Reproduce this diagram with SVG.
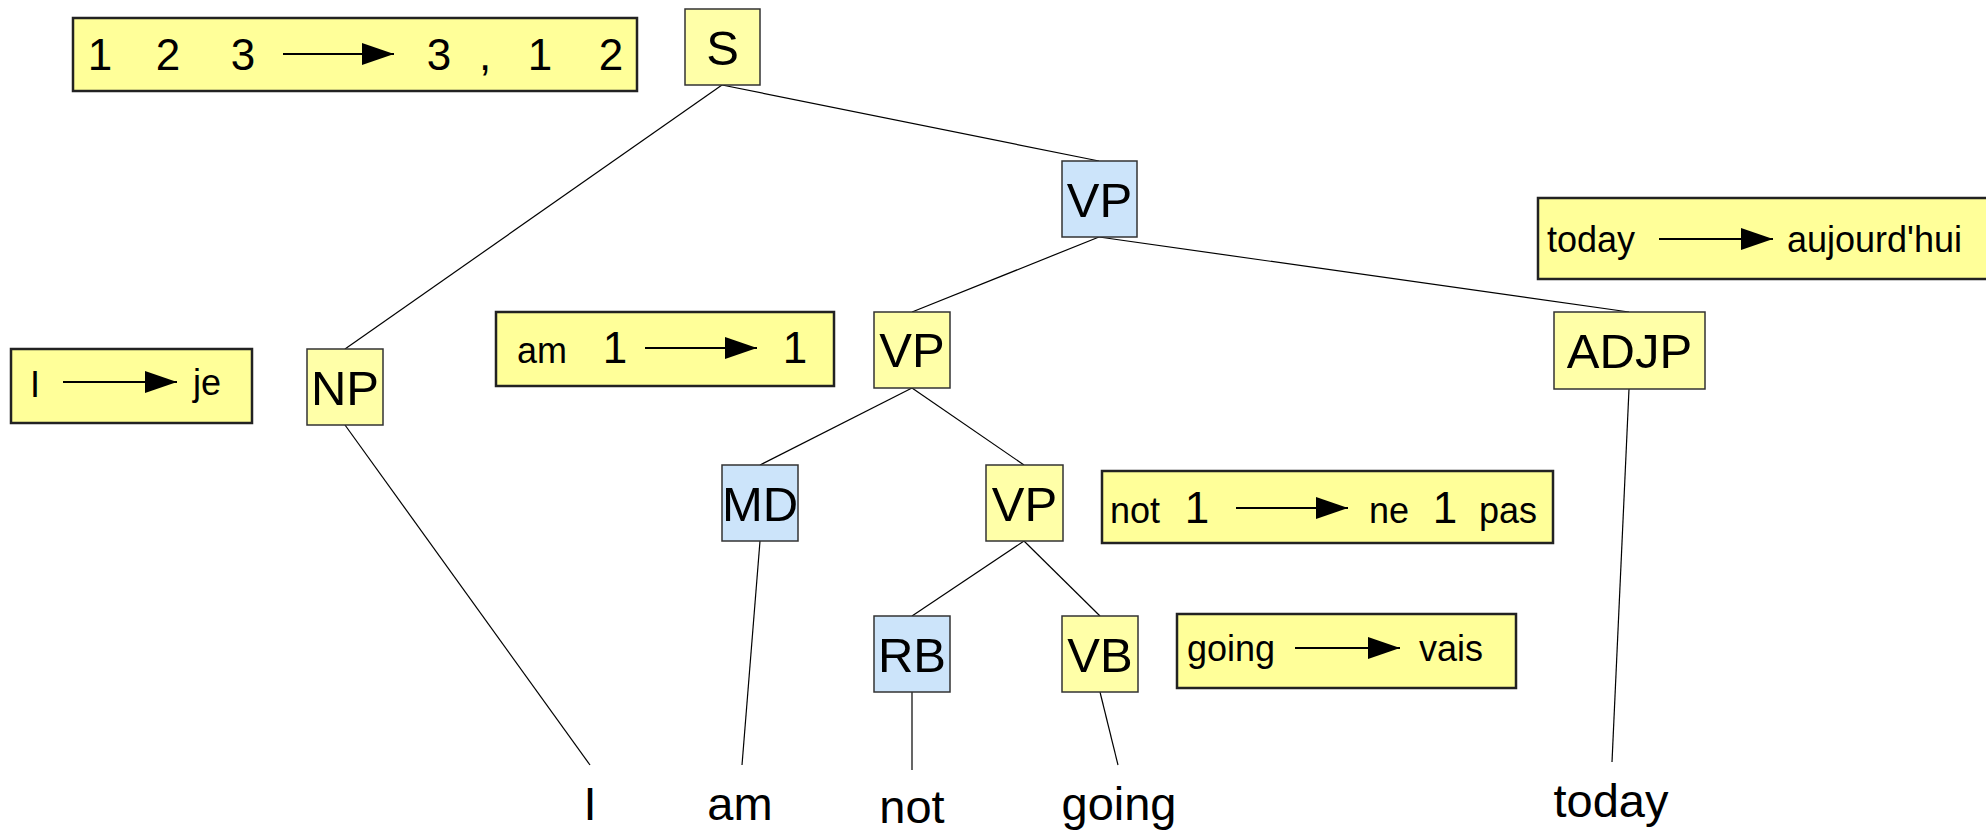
<svg xmlns="http://www.w3.org/2000/svg" width="1986" height="830" viewBox="0 0 1986 830">
<defs>
<style>
.node rect{stroke:#333;stroke-width:1.5}
.y rect{fill:#ffffa8}
.b rect{fill:#cce4fa}
.node text{font-family:"Liberation Sans",Arial,sans-serif;font-size:49px;text-anchor:middle;fill:#000}
.rule rect{fill:#ffff99;stroke:#222;stroke-width:2.5}
.rule text{font-family:"Liberation Sans",Arial,sans-serif;fill:#000}
.d{font-size:44px;text-anchor:middle}
.w{font-size:36px}
.arr{stroke:#000;stroke-width:2;marker-end:url(#ah)}
.conn line{stroke:#000;stroke-width:1.2}
.leaf{font-family:"Liberation Sans",Arial,sans-serif;font-size:47px;text-anchor:middle;fill:#000}
</style>
<marker id="ah" markerUnits="userSpaceOnUse" markerWidth="33" markerHeight="22" refX="32" refY="11" orient="auto">
<path d="M0,0 L32,11 L0,22 Z" fill="#000"/>
</marker>
</defs>
<rect width="1986" height="830" fill="#fff"/>

<g id="connectors" class="conn">
<line x1="722" y1="85" x2="345" y2="349"/>
<line x1="722" y1="85" x2="1099" y2="161"/>
<line x1="1099" y1="237" x2="912" y2="312"/>
<line x1="1099" y1="237" x2="1629" y2="312"/>
<line x1="912" y1="388" x2="760" y2="465"/>
<line x1="912" y1="388" x2="1024" y2="465"/>
<line x1="1024" y1="541" x2="912" y2="616"/>
<line x1="1024" y1="541" x2="1100" y2="616"/>
<line x1="345" y1="425" x2="590" y2="765"/>
<line x1="760" y1="541" x2="742" y2="765"/>
<line x1="912" y1="692" x2="912" y2="770"/>
<line x1="1100" y1="692" x2="1118" y2="765"/>
<line x1="1629" y1="389" x2="1612" y2="762"/>
</g>

<g id="rule1" class="rule">
<rect x="73" y="18" width="564" height="73"/>
<text class="d" x="100" y="70">1</text>
<text class="d" x="168" y="70">2</text>
<text class="d" x="243" y="70">3</text>
<line class="arr" x1="283" y1="54" x2="394" y2="54"/>
<text class="d" x="439" y="70">3</text>
<text class="d" x="485" y="70">,</text>
<text class="d" x="540" y="70">1</text>
<text class="d" x="611" y="70">2</text>
</g>

<g id="rule2" class="rule">
<rect x="11" y="349" width="241" height="74"/>
<text class="w" x="30" y="397" font-size="37">I</text>
<line class="arr" x1="63" y1="382" x2="177" y2="382"/>
<text class="w" x="193" y="395" font-size="37">je</text>
</g>

<g id="rule3" class="rule">
<rect x="496" y="312" width="338" height="74"/>
<text class="w" x="517" y="363" font-size="37">am</text>
<text class="d" x="615" y="363">1</text>
<line class="arr" x1="645" y1="348" x2="757" y2="348"/>
<text class="d" x="795" y="363">1</text>
</g>

<g id="rule4" class="rule">
<rect x="1538" y="198" width="460" height="81"/>
<text class="w" x="1547" y="252">today</text>
<line class="arr" x1="1659" y1="239" x2="1773" y2="239"/>
<text class="w" x="1787" y="252" font-size="37">aujourd'hui</text>
</g>

<g id="rule5" class="rule">
<rect x="1102" y="471" width="451" height="72"/>
<text class="w" x="1110" y="523">not</text>
<text class="d" x="1197" y="523">1</text>
<line class="arr" x1="1236" y1="508" x2="1348" y2="508"/>
<text class="w" x="1369" y="523">ne</text>
<text class="d" x="1445" y="523">1</text>
<text class="w" x="1479" y="523">pas</text>
</g>

<g id="rule6" class="rule">
<rect x="1177" y="614" width="339" height="74"/>
<text class="w" x="1187" y="661">going</text>
<line class="arr" x1="1295" y1="648" x2="1400" y2="648"/>
<text class="w" x="1419" y="661">vais</text>
</g>

<g id="S" class="node y"><rect x="685" y="9" width="75" height="76"/><text x="722.5" y="65">S</text></g>
<g id="VP1" class="node b"><rect x="1062" y="161" width="75" height="76"/><text x="1099.5" y="217">VP</text></g>
<g id="NP" class="node y"><rect x="307" y="349" width="76" height="76"/><text x="345" y="405">NP</text></g>
<g id="VP2" class="node y"><rect x="874" y="312" width="76" height="76"/><text x="912" y="367">VP</text></g>
<g id="ADJP" class="node y"><rect x="1554" y="312" width="151" height="77"/><text x="1629.5" y="368">ADJP</text></g>
<g id="MD" class="node b"><rect x="722" y="465" width="76" height="76"/><text x="760" y="521">MD</text></g>
<g id="VP3" class="node y"><rect x="986" y="465" width="77" height="76"/><text x="1024.5" y="521">VP</text></g>
<g id="RB" class="node b"><rect x="874" y="616" width="76" height="76"/><text x="912" y="672">RB</text></g>
<g id="VB" class="node y"><rect x="1062" y="616" width="76" height="76"/><text x="1100" y="672">VB</text></g>

<g id="leaves">
<text class="leaf" x="590" y="820">I</text>
<text class="leaf" x="740" y="820">am</text>
<text class="leaf" x="912" y="823">not</text>
<text class="leaf" x="1119" y="820">going</text>
<text class="leaf" x="1611" y="817">today</text>
</g>
</svg>
